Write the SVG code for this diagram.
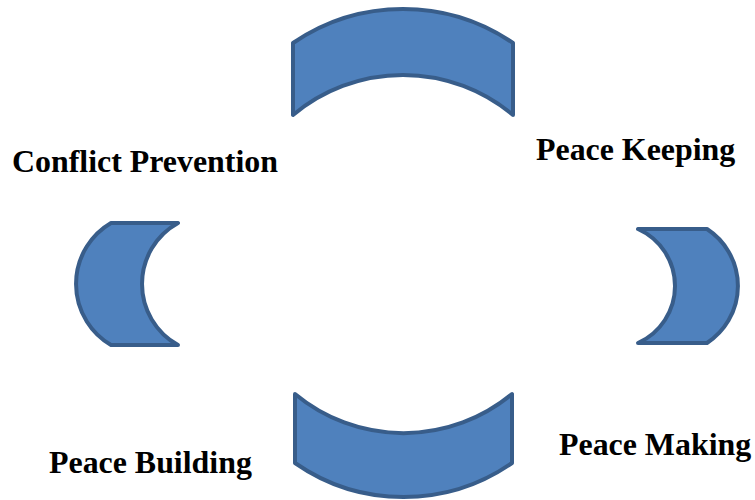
<svg xmlns="http://www.w3.org/2000/svg" width="755" height="500" viewBox="0 0 755 500">
  <style>
    .seg { fill: #4F81BD; stroke: #385D8A; stroke-width: 4; stroke-linejoin: round; stroke-linecap: round; }
    .label { font-family: "Liberation Serif", "Times New Roman", serif; font-weight: bold; font-size: 31.9px; fill: #000000; }
  </style>
  <rect width="755" height="500" fill="#ffffff"/>

  <!-- top arch -->
  <g id="seg-top">
    <path class="seg" d="M293,43 A195,195 0 0 1 513,43 L513,115 A171,171 0 0 0 293,115 Z"/>
  </g>

  <!-- right crescent -->
  <g id="seg-right">
    <path class="seg" d="M638,229 L707,229 A68,68 0 0 1 707,343 L638,343 A62.4,62.4 0 0 0 638,229 Z"/>
  </g>

  <!-- bottom arch -->
  <g id="seg-bottom">
    <path class="seg" d="M295,394 A170,170 0 0 0 512,394 L512,463 A190,190 0 0 1 295,463 Z"/>
  </g>

  <!-- left crescent -->
  <g id="seg-left">
    <path class="seg" d="M178,223 L111,223 A70.7,70.7 0 0 0 111,345 L178,345 A69.7,69.7 0 0 1 178,223 Z"/>
  </g>

  <g id="connectors"></g>

  <g id="labels">
    <text class="label" x="12" y="172">Conflict Prevention</text>
    <text class="label" x="536" y="160">Peace Keeping</text>
    <text class="label" x="559" y="455">Peace Making</text>
    <text class="label" x="49" y="473">Peace Building</text>
  </g>
</svg>
